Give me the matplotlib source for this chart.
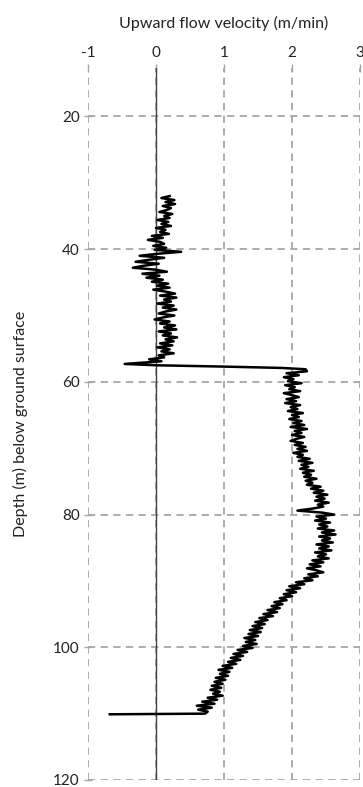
import numpy as np
import matplotlib
matplotlib.use("Agg")
import matplotlib.pyplot as plt

# upper section (depth 32.0 - 56.9 m, every 0.3 m)
upper_start = 32.0
upper_step = 0.3
upper_vel = [0.20, 0.08, 0.27, 0.14, 0.28, 0.10, 0.22, 0.16, 0.05, 0.24,
             0.12, 0.20, 0.02, 0.18, 0.08, 0.22, 0.00, 0.14, 0.06, 0.19,
             -0.06, 0.10, -0.12, 0.06, 0.12, -0.04, 0.15, -0.02, 0.37, 0.02,
             -0.24, 0.12, -0.10, -0.30, 0.04, -0.18, -0.34, 0.00, 0.16, -0.20,
             0.05, -0.14, 0.10, -0.06, 0.18, 0.02, 0.20, -0.04, 0.14, 0.28,
             0.06, 0.30, 0.12, 0.22, 0.02, 0.26, 0.10, 0.30, 0.14, 0.04,
             0.27, 0.10, -0.02, 0.20, 0.06, 0.28, 0.12, 0.30, 0.04, 0.22,
             0.10, 0.31, 0.14, 0.26, 0.06, 0.24, 0.02, 0.20, 0.08, 0.26,
             0.04, 0.12, -0.10, 0.08]

# jump at ~57.5 m
jump_depth = [57.3, 57.5, 57.7, 57.9, 58.1]
jump_vel = [-0.46, 0.0, 1.0, 1.85, 2.2]

# lower section (depth 58.4 - 109.7 m, every 0.3 m)
lower_start = 58.4
lower_step = 0.3
lower_vel = [2.22, 1.92, 2.10, 1.88, 2.02, 1.94, 2.14, 1.90, 2.04, 1.96,
             2.12, 1.88, 2.00, 2.10, 1.92, 2.06, 1.90, 2.12, 1.98, 2.08,
             1.94, 2.16, 2.00, 2.10, 1.96, 2.14, 2.02, 2.18, 1.98, 2.22,
             2.04, 2.14, 2.00, 2.18, 2.06, 1.98, 2.16, 2.04, 2.20, 2.08,
             2.22, 2.02, 2.16, 2.08, 2.26, 2.10, 2.30, 2.14, 2.24, 2.12,
             2.32, 2.16, 2.28, 2.18, 2.36, 2.20, 2.30, 2.22, 2.42, 2.28,
             2.46, 2.32, 2.52, 2.36, 2.48, 2.34, 2.54, 2.38, 2.46, 2.30,
             2.08, 2.44, 2.62, 2.36, 2.50, 2.34, 2.56, 2.40, 2.52, 2.38,
             2.62, 2.44, 2.64, 2.40, 2.56, 2.44, 2.60, 2.36, 2.54, 2.40,
             2.58, 2.34, 2.50, 2.38, 2.54, 2.30, 2.46, 2.26, 2.42, 2.22,
             2.36, 2.46, 2.24, 2.38, 2.18, 2.30, 2.06, 2.18, 1.96, 2.12,
             1.92, 2.06, 1.88, 2.00, 1.82, 1.92, 1.74, 1.86, 1.70, 1.82,
             1.64, 1.78, 1.58, 1.72, 1.52, 1.64, 1.46, 1.60, 1.42, 1.56,
             1.38, 1.54, 1.36, 1.50, 1.30, 1.46, 1.32, 1.48, 1.28, 1.42,
             1.20, 1.34, 1.14, 1.28, 1.10, 1.24, 1.06, 1.18, 0.98, 1.12,
             0.92, 1.08, 0.94, 1.06, 0.88, 1.02, 0.86, 0.98, 0.82, 0.96,
             0.80, 0.94, 0.84, 0.98, 0.76, 0.90, 0.68, 0.86, 0.60, 0.82,
             0.62, 0.76]

# bottom spike at ~110 m
tail_depth = [110.0, 110.1]
tail_vel = [0.72, -0.68]

x_ticks = [-1, 0, 1, 2, 3]
y_ticks = [20, 40, 60, 80, 100, 120]

upper_depth = upper_start + upper_step * np.arange(len(upper_vel))
lower_depth = lower_start + lower_step * np.arange(len(lower_vel))
depth = np.concatenate([upper_depth, jump_depth, lower_depth, tail_depth])
vel = np.concatenate([upper_vel, jump_vel, lower_vel, tail_vel])

plt.rcParams['font.family'] = ['Lato', 'DejaVu Sans']
plt.rcParams['axes.unicode_minus'] = False

fig = plt.figure(figsize=(3.63, 7.87), dpi=100)
ax = fig.add_axes([88 / 363, 1 - 780 / 787, 272 / 363, 712 / 787])

grid_col = '#a6a6a6'
txt_col = '#222222'
ax.set_xlim(-1, 3)
ax.set_ylim(120, 12.7)
ax.set_xticks(x_ticks)
ax.set_yticks(y_ticks)
ax.grid(True, color=grid_col, linestyle=(0, (4, 3)), linewidth=1.3)
ax.set_axisbelow(True)
for s in ax.spines.values():
    s.set_visible(False)

ax.xaxis.tick_top()
ax.xaxis.set_label_position('top')
ax.tick_params(axis='both', direction='inout', length=6, width=1,
               color=grid_col, labelsize=11, labelcolor=txt_col)
ax.tick_params(axis='x', pad=3)
ax.tick_params(axis='y', pad=3)

ax.axvline(0, color='#444444', linewidth=1.0, zorder=2)
ax.plot(vel, depth, color='black', linewidth=1.8, zorder=3)

ax.set_xlabel('Upward flow velocity (m/min)', fontsize=11.5, color=txt_col, labelpad=13)
ax.set_ylabel('Depth (m) below ground surface', fontsize=11.5, color=txt_col, labelpad=18)

fig.savefig('out.png', dpi=100)
